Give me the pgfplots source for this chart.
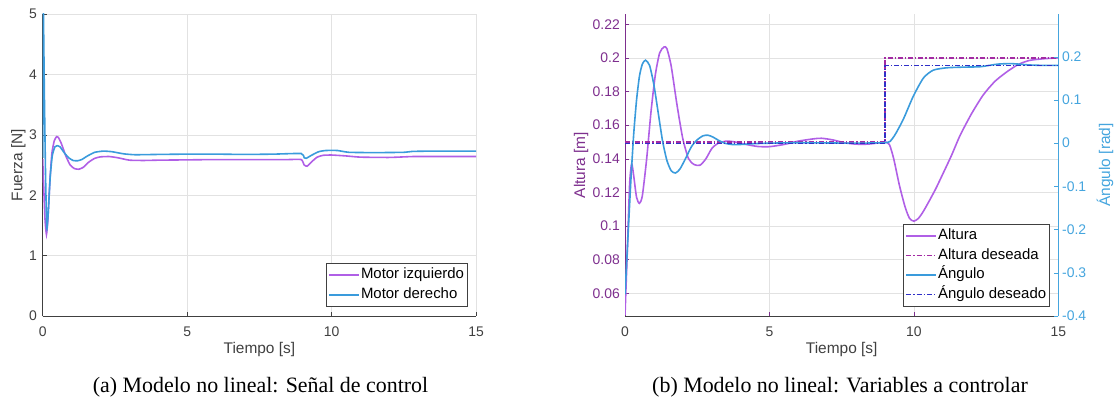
\documentclass[border=0pt]{standalone}
\usepackage{fontspec}
\setmainfont{Liberation Serif}
\newfontfamily\axfont{Liberation Sans}
\usepackage{pgfplots}
\pgfplotsset{compat=1.18}
\definecolor{cpur}{HTML}{B05FE6}
\definecolor{cblu}{HTML}{3A9BDC}
\definecolor{cpurd}{HTML}{A32BA3}
\definecolor{cblud}{HTML}{3030C8}
\definecolor{caxl}{HTML}{7E2F8E}
\definecolor{caxr}{HTML}{45A5DE}
\definecolor{cax}{HTML}{404040}
\definecolor{cgrid}{HTML}{E2E2E2}
\pgfplotsset{
  myax/.style={
    scale only axis, width=433.4bp, height=302bp,
    xmin=0, xmax=15,
    tick align=inside, major tick length=4bp,
    x axis line style={-, draw=cax, line width=0.6bp},
    y axis line style={-, line width=0.6bp},
    ticklabel style={font=\axfont\fontsize{14}{16}\selectfont},
    label style={font=\axfont\fontsize{15.5}{17}\selectfont},
    grid style={draw=cgrid, line width=0.5bp},
    xtick={0,5,10,15}, xticklabels={0,5,10,15},
    xticklabel style={anchor=north, inner sep=0pt, yshift=-11bp, text=cax},
    xlabel={Tiempo [s]},
    xlabel style={at={(axis description cs:0.5,-0.1126)}, anchor=center, text=cax},
    legend cell align=left,
    legend style={font=\axfont\fontsize{15}{17}\selectfont, draw=cax, fill=white,
      inner sep=2bp, row sep=0pt,
      nodes={inner ysep=1.5bp, inner xsep=1bp, text height=12bp, text depth=4.5bp}},
    legend image code/.code={\draw[##1] (0bp,0bp) -- (30bp,0bp);},
  }
}
\begin{document}
\begin{tikzpicture}
\useasboundingbox (0bp,0bp) rectangle (1117bp,400bp);
% ---------------- left plot
\begin{axis}[myax, at={(42.7bp,84bp)}, anchor=south west,
  ymin=0, ymax=5, ytick={0,1,2,3,4,5}, yticklabels={0,1,2,3,4,5},
  axis x line*=bottom, axis y line*=left,
  y axis line style={draw=cax}, tick style={draw=cax, line width=0.5bp},
  yticklabel style={anchor=east, inner sep=0pt, xshift=-5.5bp, text=cax},
  ylabel={Fuerza [N]},
  ylabel style={at={(axis description cs:-0.0563,0.5)}, anchor=center, text=cax},
  grid=major,
  legend style={at={(axis description cs:0.9795,0.0308)}, anchor=south east}]
\addplot[forget plot, cpur, line width=1.6bp, smooth, tension=0.3] coordinates {
(0,2.60) (0.03,2.2) (0.08,1.6) (0.13,1.35) (0.18,1.6) (0.25,2.25) (0.32,2.7) (0.40,2.9)
(0.48,2.97) (0.55,2.95) (0.65,2.85) (0.80,2.65) (0.95,2.50) (1.10,2.44) (1.25,2.43)
(1.40,2.46) (1.60,2.55) (1.80,2.61) (2.00,2.635) (2.30,2.64) (2.60,2.62) (3.00,2.58)
(3.50,2.575) (4.00,2.58) (5.00,2.585) (6.00,2.59) (7.00,2.59) (8.00,2.59) (8.50,2.59)
(8.95,2.59) (9.05,2.50) (9.15,2.48) (9.30,2.55) (9.50,2.63) (9.70,2.66) (10.0,2.665)
(10.5,2.65) (11.0,2.63) (12.0,2.625) (12.8,2.64) (13.5,2.64) (15.0,2.64)};
\addplot[forget plot, cblu, line width=1.6bp, smooth, tension=0.3] coordinates {
(0,2.62) (0.01,5.5) (0.06,3.6) (0.10,2.3) (0.14,1.45) (0.19,1.7) (0.26,2.3) (0.33,2.65)
(0.42,2.8) (0.50,2.82) (0.60,2.80) (0.75,2.70) (0.90,2.62) (1.05,2.575) (1.20,2.57)
(1.35,2.59) (1.55,2.65) (1.80,2.71) (2.10,2.73) (2.40,2.72) (2.80,2.685) (3.20,2.67)
(4.00,2.675) (5.00,2.68) (6.00,2.68) (7.00,2.675) (8.00,2.68) (8.95,2.69) (9.05,2.62)
(9.12,2.61) (9.30,2.66) (9.55,2.72) (9.80,2.74) (10.2,2.74) (10.6,2.71) (11.5,2.705)
(12.5,2.71) (12.8,2.725) (13.5,2.73) (15,2.73)};
\addlegendimage{cpur, line width=1.6bp}
\addlegendentry{Motor izquierdo}
\addlegendimage{cblu, line width=1.6bp}
\addlegendentry{Motor derecho}
\end{axis}
% ---------------- right plot, left y axis
\begin{axis}[myax, at={(625bp,84bp)}, anchor=south west,
  ymin=0.0465, ymax=0.2261,
  ytick={0.06,0.08,0.10,0.12,0.14,0.16,0.18,0.20,0.22},
  yticklabels={0.06,0.08,0.1,0.12,0.14,0.16,0.18,0.2,0.22},
  axis x line*=bottom, axis y line*=left,
  y axis line style={draw=caxl}, tick style={draw=caxl, line width=0.5bp},
  yticklabel style={anchor=east, inner sep=0pt, xshift=-5bp, text=caxl},
  ylabel={Altura [m]},
  ylabel style={at={(axis description cs:-0.1015,0.5)}, anchor=center, text=caxl},
  grid=major]
\addplot[forget plot, cpur, line width=1.6bp, smooth, tension=0.4] coordinates {
(0,0.047) (0.08,0.085) (0.16,0.125) (0.23,0.137) (0.30,0.130) (0.40,0.117) (0.50,0.1135)
(0.60,0.118) (0.75,0.140) (0.90,0.168) (1.05,0.190) (1.20,0.203) (1.35,0.2065) (1.45,0.2055)
(1.60,0.195) (1.80,0.172) (2.00,0.152) (2.20,0.140) (2.40,0.1365) (2.60,0.1362) (2.80,0.140)
(3.00,0.146) (3.20,0.149) (3.50,0.1505) (3.80,0.1500) (4.20,0.1485) (4.60,0.1473) (5.00,0.1472)
(5.50,0.1485) (6.00,0.1505) (6.50,0.1518) (6.80,0.1522) (7.20,0.1512) (7.60,0.1495)
(8.00,0.1487) (8.40,0.1487) (8.80,0.1495) (9.00,0.1500) (9.15,0.1485) (9.30,0.140)
(9.50,0.124) (9.70,0.111) (9.85,0.1045) (10.0,0.1029) (10.15,0.1045) (10.30,0.108)
(10.50,0.114) (10.75,0.122) (11.00,0.131) (11.30,0.142) (11.60,0.154) (12.00,0.167)
(12.40,0.178) (12.80,0.186) (13.20,0.1915) (13.60,0.196) (14.00,0.1985) (14.50,0.1995)
(15.00,0.2000)};
\addplot[forget plot, draw=cpurd, line width=1.3bp, dash pattern=on 5bp off 2bp on 1.2bp off 2bp] coordinates {
(0,0.15) (9,0.15) (9,0.2) (15,0.2)};
\end{axis}
% ---------------- right plot, right y axis
\begin{axis}[myax, at={(625bp,84bp)}, anchor=south west,
  ymin=-0.4, ymax=0.299,
  ytick={-0.4,-0.3,-0.2,-0.1,0,0.1,0.2},
  yticklabels={-0.4,-0.3,-0.2,-0.1,0,0.1,0.2},
  axis x line=none, axis y line*=right, xlabel={},
  y axis line style={draw=caxr}, tick style={draw=caxr, line width=0.5bp},
  yticklabel style={anchor=west, inner sep=0pt, xshift=3.5bp, text=caxr},
  ylabel={Ángulo [rad]},
  ylabel style={at={(axis description cs:1.1078,0.5)}, anchor=center, text=caxr},
  legend style={at={(axis description cs:0.9792,0.0308)}, anchor=south east}]
\addplot[forget plot, cblu, line width=1.6bp, smooth, tension=0.4] coordinates {
(0,-0.35) (0.10,-0.22) (0.20,-0.09) (0.30,0.02) (0.40,0.10) (0.50,0.155) (0.60,0.183)
(0.71,0.192) (0.85,0.180) (1.00,0.135) (1.15,0.070) (1.30,0.005) (1.45,-0.040) (1.60,-0.064)
(1.75,-0.069) (1.90,-0.060) (2.10,-0.035) (2.30,-0.008) (2.50,0.008) (2.70,0.017) (2.87,0.0185)
(3.05,0.014) (3.25,0.006) (3.45,0.0) (3.70,-0.003) (4.00,-0.003) (4.50,-0.001) (5.00,0.0)
(6.00,0.001) (7.00,0.0005) (8.00,0.0) (8.60,0.0005) (9.00,0.001) (9.17,0.004) (9.35,0.020)
(9.63,0.055) (9.98,0.109) (10.33,0.151) (10.67,0.169) (11.14,0.1745) (11.70,0.176)
(12.30,0.177) (12.90,0.183) (13.40,0.184) (14.00,0.181) (14.50,0.180) (15.00,0.180)};
\addplot[forget plot, draw=cblud, line width=1.2bp, dash pattern=on 5bp off 2bp on 1.2bp off 2bp] coordinates {
(0,0) (9,0) (9,0.18) (15,0.18)};
\addlegendimage{cpur, line width=1.6bp}
\addlegendentry{Altura}
\addlegendimage{draw=cpurd, line width=1.3bp, dash pattern=on 5bp off 2bp on 1.2bp off 2bp}
\addlegendentry{Altura deseada}
\addlegendimage{cblu, line width=1.6bp}
\addlegendentry{Ángulo}
\addlegendimage{draw=cblud, line width=1.2bp, dash pattern=on 5bp off 2bp on 1.2bp off 2bp}
\addlegendentry{Ángulo deseado}
\end{axis}
% ---------------- captions
\node[font=\fontsize{22}{24}\selectfont, anchor=base] at (260.5bp,8bp) {(a) Modelo no lineal: Señal de control};
\node[font=\fontsize{22}{24}\selectfont, anchor=base] at (840bp,8bp) {(b) Modelo no lineal: Variables a controlar};
\end{tikzpicture}
\end{document}
